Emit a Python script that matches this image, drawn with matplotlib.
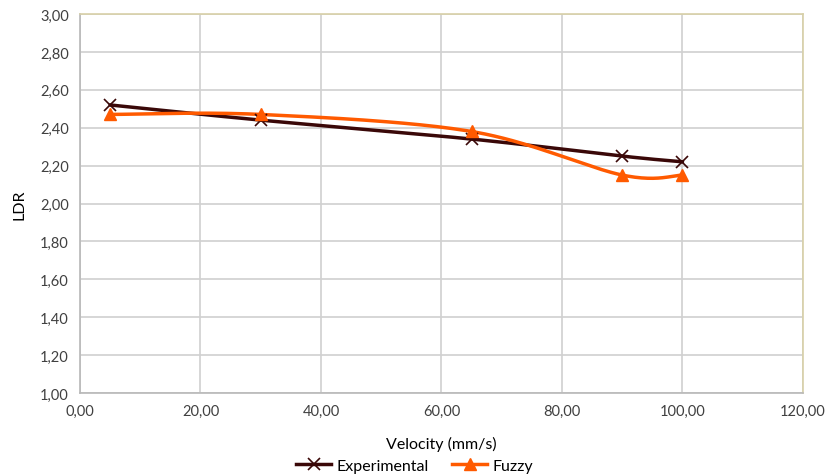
import numpy as np
import matplotlib
matplotlib.use("Agg")
import matplotlib.pyplot as plt
from matplotlib.ticker import FuncFormatter, MultipleLocator
from matplotlib.lines import Line2D

velocity = [5, 30, 65, 90, 100]
experimental = [2.52, 2.44, 2.34, 2.25, 2.22]
fuzzy = [2.47, 2.47, 2.38, 2.15, 2.15]

plt.rcParams['font.family'] = ['Lato', 'DejaVu Sans']

fig = plt.figure(figsize=(8.29, 4.77), dpi=100)
ax = fig.add_axes([80/829, 1-394/477, (803-80)/829, (394-15)/477])

XMIN, XMAX, YMIN, YMAX = 0, 120, 1.0, 3.0
W, H = 723.0, 379.0


def smooth(xs, ys, n=40):
    # Excel-like smoothed line: cubic Bezier with Catmull-Rom control points (screen space)
    px = [(x - XMIN) / (XMAX - XMIN) * W for x in xs]
    py = [(y - YMIN) / (YMAX - YMIN) * H for y in ys]
    P = np.array(list(zip(px, py)))
    out = []
    m = len(P)
    for i in range(m - 1):
        p0 = P[i - 1] if i > 0 else P[i]
        p1 = P[i]
        p2 = P[i + 1]
        p3 = P[i + 2] if i + 2 < m else P[i + 1]
        c1 = p1 + (p2 - p0) / 6.0
        c2 = p2 - (p3 - p1) / 6.0
        t = np.linspace(0, 1, n)[:, None]
        seg = ((1 - t) ** 3) * p1 + 3 * ((1 - t) ** 2) * t * c1 + 3 * (1 - t) * t ** 2 * c2 + t ** 3 * p2
        if i > 0:
            seg = seg[1:]
        out.append(seg)
    S = np.vstack(out)
    sx = S[:, 0] / W * (XMAX - XMIN) + XMIN
    sy = S[:, 1] / H * (YMAX - YMIN) + YMIN
    return sx, sy

c_exp = '#3a0808'
c_fuz = '#ff5a00'

sx, sy = smooth(velocity, experimental)
ax.plot(sx, sy, color=c_exp, lw=2.5, zorder=3, solid_capstyle='round')
ax.plot(velocity, experimental, ls='none', marker='x', ms=8, mew=1.2, color=c_exp, zorder=4)
sx, sy = smooth(velocity, fuzzy)
ax.plot(sx, sy, color=c_fuz, lw=2.5, zorder=3, solid_capstyle='round')
ax.plot(velocity, fuzzy, ls='none', marker='^', ms=8, color=c_fuz, zorder=4)

ax.set_xlim(XMIN, XMAX)
ax.set_ylim(YMIN, YMAX)
ax.xaxis.set_major_locator(MultipleLocator(20))
ax.yaxis.set_major_locator(MultipleLocator(0.2))
fmt = FuncFormatter(lambda v, p: f"{v:.2f}".replace('.', ','))
ax.xaxis.set_major_formatter(fmt)
ax.yaxis.set_major_formatter(fmt)
ax.grid(True, color='#d0d0d0', lw=1.2)
ax.set_axisbelow(True)
ax.tick_params(length=0, labelsize=10.5, colors='#404040', pad=8)
for s in ['left', 'bottom']:
    ax.spines[s].set_color('#b8b8b8')
    ax.spines[s].set_linewidth(1.2)
for s in ['top', 'right']:
    ax.spines[s].set_color('#d8d0a8')
    ax.spines[s].set_linewidth(1.2)

ax.set_xlabel('Velocity (mm/s)', fontsize=11.5, color='black', labelpad=13)
ax.set_ylabel('LDR', fontsize=11.5, color='black', labelpad=10)

handles = [Line2D([], [], color=c_exp, lw=2.5, marker='x', ms=8, mew=1.2),
           Line2D([], [], color=c_fuz, lw=2.5, marker='^', ms=8)]
fig.legend(handles, ['Experimental', 'Fuzzy'], loc='center', bbox_to_anchor=(0.5, 0.022),
           ncol=2, frameon=False, fontsize=11.5, handlelength=2.2, handletextpad=0.3,
           columnspacing=1.5, borderpad=0)

fig.savefig('out.png', dpi=100)
